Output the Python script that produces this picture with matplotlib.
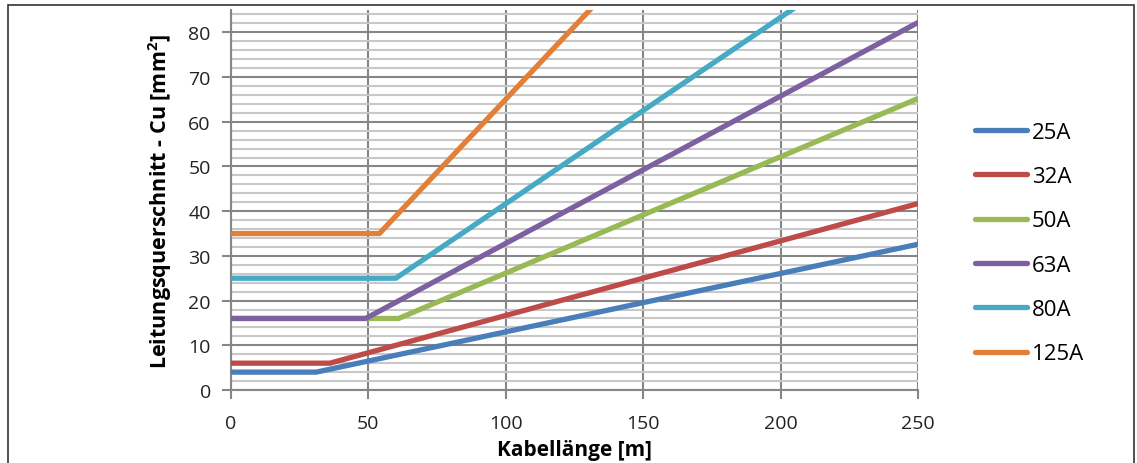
import matplotlib
matplotlib.use('Agg')
import matplotlib.pyplot as plt
from matplotlib.ticker import MultipleLocator
from matplotlib.patches import Rectangle

plt.rcParams['font.family'] = ['Open Sans', 'DejaVu Sans']

# breakpoints of each curve (Kabellänge [m], Querschnitt [mm²])
labels = ['25A', '32A', '50A', '63A', '80A', '125A']
x_25 = [0, 31, 250];   y_25 = [4, 4, 32.6]
x_32 = [0, 36, 250];   y_32 = [6, 6, 41.7]
x_50 = [0, 61, 250];   y_50 = [16, 16, 65.2]
x_63 = [0, 49, 250];   y_63 = [16, 16, 82.2]
x_80 = [0, 60, 250];   y_80 = [25, 25, 104.2]
x_125 = [0, 54, 250];  y_125 = [35, 35, 163]
series = [(x_25, y_25), (x_32, y_32), (x_50, y_50),
          (x_63, y_63), (x_80, y_80), (x_125, y_125)]
colors = ['#4A7EBB', '#BE4B48', '#98B954', '#7D60A0', '#46AAC5', '#E2803A']

fig = plt.figure(figsize=(11.37, 4.64), dpi=100)
ax = fig.add_axes([231/1137, 1-391/464, (918-231)/1137, (391-11)/464])

for (xs, ys), c, lab in zip(series, colors, labels):
    ax.plot(xs, ys, color=c, lw=3.8, label=lab, solid_capstyle='round',
            solid_joinstyle='round', zorder=3)

ax.set_xlim(0, 250)
ax.set_ylim(0, 85)
ax.xaxis.set_major_locator(MultipleLocator(50))
ax.yaxis.set_major_locator(MultipleLocator(10))
ax.yaxis.set_minor_locator(MultipleLocator(2))
ax.grid(True, which='major', axis='both', color='#868686', lw=1.5, zorder=1)
ax.grid(True, which='minor', axis='y', color='#C8C8C8', lw=1.5, zorder=0)
ax.tick_params(which='major', length=6.5, width=1.5, color='#868686',
               labelsize=14, labelcolor='#222222')
ax.tick_params(axis='x', pad=11)
ax.tick_params(axis='y', pad=8)
ax.tick_params(which='minor', length=0)
for s in ['top', 'right']:
    ax.spines[s].set_visible(False)
for s in ['left', 'bottom']:
    ax.spines[s].set_color('#868686')
    ax.spines[s].set_linewidth(1.5)

ax.set_xlabel('Kabellänge [m]', fontsize=15, fontweight='bold', labelpad=5)
ax.set_ylabel('Leitungsquerschnitt - Cu [mm$^\\mathregular{2}$]', fontsize=15.5,
              fontweight='bold', labelpad=10)

fig.legend(loc='center left', bbox_to_anchor=(955/1137, 1-244/464),
           frameon=False, fontsize=16, handlelength=2.35, handletextpad=0.2,
           labelspacing=1.05)

fig.patches.append(Rectangle((8/1137, -0.1), (1134-8)/1137, 1.1-6/464,
                             transform=fig.transFigure, fill=False,
                             edgecolor='#333333', lw=1.2))

fig.savefig('out.png', dpi=100)
